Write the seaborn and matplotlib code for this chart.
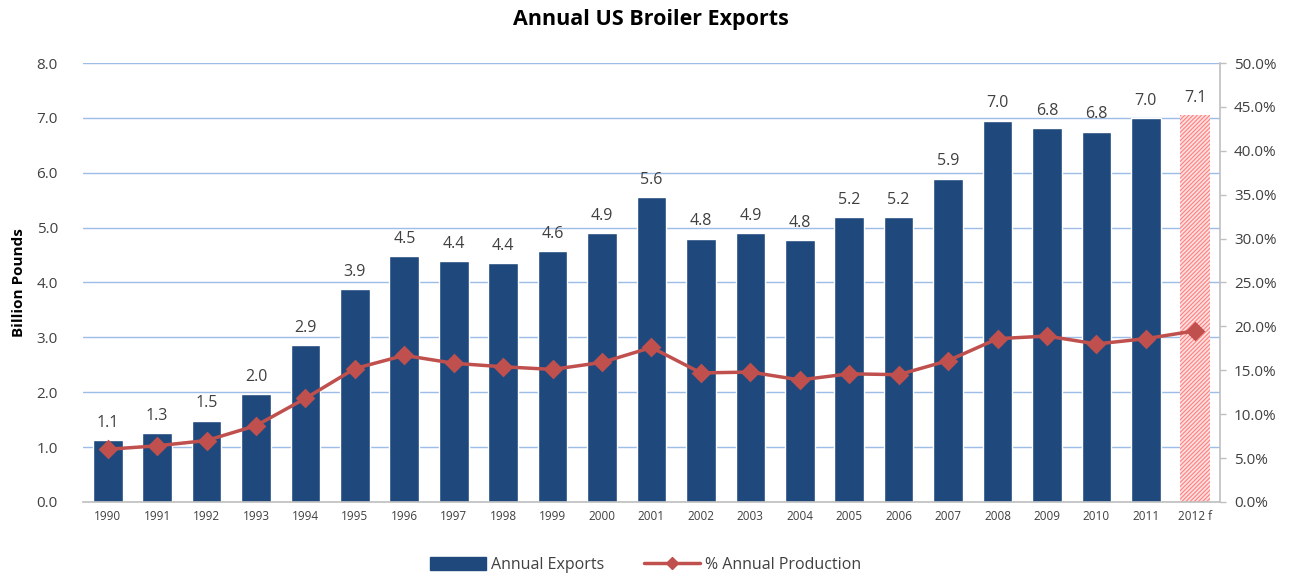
import matplotlib
matplotlib.use("Agg")
import matplotlib.pyplot as plt
import seaborn as sns
import pandas as pd
from matplotlib.lines import Line2D
from matplotlib.patches import Patch
from matplotlib.ticker import FuncFormatter, MultipleLocator

years = ["1990", "1991", "1992", "1993", "1994", "1995", "1996", "1997", "1998", "1999",
         "2000", "2001", "2002", "2003", "2004", "2005", "2006", "2007", "2008", "2009",
         "2010", "2011", "2012 f"]
exports = [1.13, 1.26, 1.48, 1.97, 2.86, 3.88, 4.48, 4.39, 4.35, 4.57,
           4.90, 5.55, 4.80, 4.90, 4.77, 5.19, 5.19, 5.89, 6.95, 6.81,
           6.75, 6.99, 7.05]
export_labels = ["1.1", "1.3", "1.5", "2.0", "2.9", "3.9", "4.5", "4.4", "4.4", "4.6",
                 "4.9", "5.6", "4.8", "4.9", "4.8", "5.2", "5.2", "5.9", "7.0", "6.8",
                 "6.8", "7.0", "7.1"]
pct_production = [6.0, 6.4, 7.0, 8.7, 11.8, 15.2, 16.7, 15.8, 15.4, 15.1,
                  15.9, 17.6, 14.7, 14.8, 13.9, 14.6, 14.5, 16.1, 18.6, 18.9,
                  18.0, 18.6, 19.5]

df = pd.DataFrame({"year": years, "exports": exports, "pct": pct_production})

sns.set_theme(style="white")
plt.rcParams["font.family"] = ["Open Sans", "DejaVu Sans"]
plt.rcParams["hatch.linewidth"] = 0.8

BLUE = "#1F497D"
RED = "#C0504D"
GRID = "#9DBCE6"
TXT = "#404040"

fig = plt.figure(figsize=(13.09, 5.78), dpi=100)
ax = fig.add_axes([0.0634, 0.1315, 0.8686, 0.7595])

sns.barplot(data=df, x="year", y="exports", color=BLUE, saturation=1, width=0.6, ax=ax, zorder=2)
last = ax.patches[-1]
last.set_facecolor("#FFE0E0")
last.set_edgecolor("#FF7F7F")
last.set_hatch("////////")
last.set_linewidth(0)

for p, lab in zip(ax.patches, export_labels):
    ax.text(p.get_x() + p.get_width() / 2, p.get_height() + 0.17, lab,
            ha="center", va="bottom", fontsize=11.5, color=TXT)

ax.set_ylim(0, 8)
ax.set_xlim(-0.5, len(years) - 0.5)
ax.yaxis.set_major_locator(MultipleLocator(1))
ax.yaxis.set_major_formatter(FuncFormatter(lambda v, _: f"{v:.1f}"))
ax.grid(axis="y", color=GRID, linewidth=1.0, zorder=0)
ax.set_axisbelow(True)
ax.set_xlabel("")
ax.set_ylabel("Billion Pounds", fontsize=11, fontweight="bold", color="black", labelpad=8)
ax.tick_params(axis="y", labelsize=11, colors=TXT, length=0, pad=18)
ax.tick_params(axis="x", labelsize=8.5, colors=TXT, length=0, pad=6)
for s in ["left", "top", "right"]:
    ax.spines[s].set_visible(False)
ax.spines["bottom"].set_color("#BFBFBF")
ax.spines["bottom"].set_linewidth(1.2)

ax2 = ax.twinx()
sns.pointplot(data=df, x="year", y="pct", color=RED, markers="D", markersize=8,
              linewidth=2.5, ax=ax2, zorder=4)
ax2.set_ylim(0, 50)
ax2.set_xlim(-0.5, len(years) - 0.5)
ax2.yaxis.set_major_locator(MultipleLocator(5))
ax2.yaxis.set_major_formatter(FuncFormatter(lambda v, _: f"{v:.1f}%"))
ax2.set_ylabel("")
ax2.set_xlabel("")
ax2.tick_params(axis="y", labelsize=11, colors=TXT, length=4, width=1, direction="out", pad=6)
ax2.tick_params(axis="y", color="#BFBFBF")
for s in ["left", "top", "bottom"]:
    ax2.spines[s].set_visible(False)
ax2.spines["right"].set_color("#BFBFBF")
ax2.spines["right"].set_linewidth(1.2)

fig.suptitle("Annual US Broiler Exports", x=0.497, y=0.985, fontsize=15.5, fontweight="bold", color="black")

handles = [Patch(facecolor=BLUE, edgecolor=BLUE, label="Annual Exports"),
           Line2D([0], [0], color=RED, lw=2.5, marker="D", markersize=6, label="% Annual Production")]
fig.legend(handles=handles, loc="center", bbox_to_anchor=(0.493, 0.022), ncol=2, frameon=False,
           fontsize=11.5, handlelength=3.5, handleheight=0.9, columnspacing=2.5,
           handletextpad=0.3, labelcolor=TXT)

fig.savefig("out.png", dpi=100)
